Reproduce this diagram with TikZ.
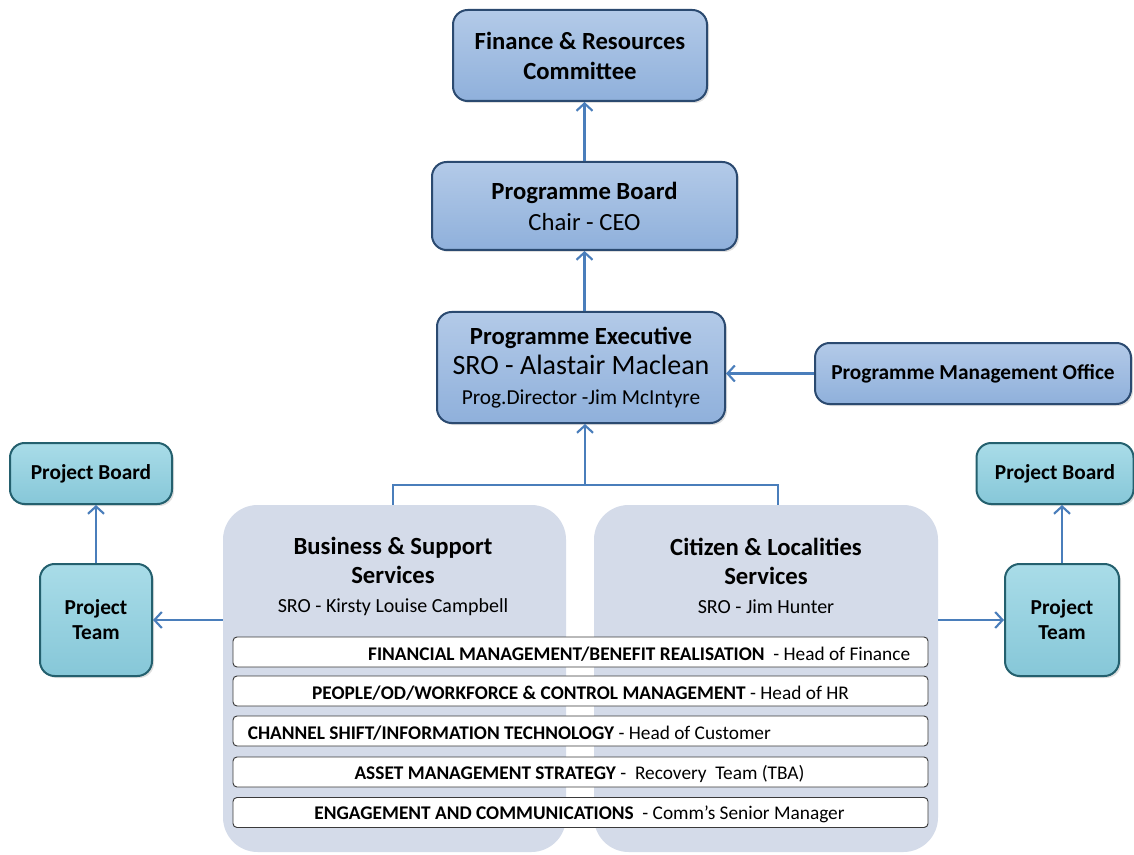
\documentclass[tikz,border=0pt]{standalone}
\usepackage{fontspec}
\setmainfont{Carlito}
\usetikzlibrary{arrows.meta,calc,shadows}
\definecolor{maintop}{HTML}{B3CAE8}
\definecolor{mainbot}{HTML}{8FB0DB}
\definecolor{mainline}{HTML}{2B4A70}
\definecolor{cyantop}{HTML}{A9DCE8}
\definecolor{cyanbot}{HTML}{86C7D8}
\definecolor{cyanline}{HTML}{24606E}
\definecolor{panel}{HTML}{D4DBE9}
\definecolor{arrowc}{HTML}{4A7EBB}
\definecolor{stripline}{HTML}{3A3A3A}
\begin{document}
\begin{tikzpicture}[x=0.75pt,y=-0.75pt,
  mainbox/.style={draw=mainline, line width=1.5pt, rounded corners=11pt,
    top color=maintop, bottom color=mainbot, align=center, inner sep=0pt,
    drop shadow={opacity=0.25, shadow xshift=1.5pt, shadow yshift=-1.5pt}},
  cyanbox/.style={draw=cyanline, line width=1.5pt, rounded corners=11pt,
    top color=cyantop, bottom color=cyanbot, align=center, inner sep=0pt,
    font=\fontsize{16}{18.75}\selectfont\bfseries,
    drop shadow={opacity=0.25, shadow xshift=1.5pt, shadow yshift=-1.5pt}},
  panelbox/.style={fill=panel, rounded corners=26pt, inner sep=0pt},
  stripbox/.style={draw=stripline, line width=0.7pt, fill=white, rounded corners=3pt,
    minimum width=521.25pt, minimum height=22.5pt, inner sep=0pt},
  striptext/.style={inner sep=0pt, font=\fontsize{14.5}{16}\selectfont},
  arr/.style={draw=arrowc, line width=1.6pt, -{Straight Barb[length=5.5pt,width=12pt]}},
  conn/.style={draw=arrowc, line width=1.6pt}
]
\fill[white] (0,0) rectangle (1134,855);
\useasboundingbox (0,0) rectangle (1134,855);

% top chain
\node[mainbox, minimum width=190.5pt, minimum height=68.25pt,
  font=\fontsize{18.5}{22.5}\selectfont\bfseries] (fin) at (580,55.5)
  {Finance \& Resources\\Committee};
\node[mainbox, minimum width=228.75pt, minimum height=66pt,
  font=\fontsize{18.5}{23.25}\selectfont] (pb) at (584.5,206)
  {\textbf{Programme Board}\\Chair - CEO};
\node[mainbox, minimum width=216pt, minimum height=83.25pt,
  font=\fontsize{18.5}{22.5}\selectfont] (ex) at (581,367.5)
  {\textbf{Programme Executive}\\{\fontsize{21}{22.5}\selectfont SRO - Alastair Maclean}\\{\fontsize{16}{22.5}\selectfont Prog.Director -Jim McIntyre}};
\node[mainbox, minimum width=237pt, minimum height=45.75pt,
  font=\fontsize{16}{18}\selectfont\bfseries] (pmo) at (973,373.5)
  {Programme Management Office};

% side boxes
\node[cyanbox, minimum width=121.5pt, minimum height=45.75pt] (lpb) at (91,473.5) {Project Board};
\node[cyanbox, minimum width=84pt, minimum height=84pt] (ltm) at (96,620) {Project\\Team};
\node[cyanbox, minimum width=117.75pt, minimum height=45.75pt] (rpb) at (1055,473.5) {Project Board};
\node[cyanbox, minimum width=85.5pt, minimum height=84pt] (rtm) at (1062,620) {Project\\Team};

% panels
\node[panelbox, minimum width=257.25pt, minimum height=260.25pt] (lp) at (394.5,678.5) {};
\node[panelbox, minimum width=258pt, minimum height=260.25pt] (rp) at (766,678.5) {};
\node[align=center, inner sep=0pt, font=\fontsize{18.5}{21.75}\selectfont\bfseries] (lpt) at (393,576)
  {Business \& Support\\Services\\{\fontsize{15}{21.75}\selectfont\mdseries SRO - Kirsty Louise Campbell}};
\node[align=center, inner sep=0pt, font=\fontsize{18.5}{21.75}\selectfont\bfseries] (rpt) at (766,576)
  {Citizen \& Localities\\Services\\{\fontsize{15}{21.75}\selectfont\mdseries SRO - Jim Hunter}};

% strips
\node[stripbox] (s1) at (580.5,652) {};
\node[stripbox] (s2) at (580.5,691) {};
\node[stripbox] (s3) at (580.5,731) {};
\node[stripbox] (s4) at (580.5,772) {};
\node[stripbox] (s5) at (580.5,812.5) {};
\node[striptext, anchor=east] (t1) at ($(s1.east)+(-18,2)$)
  {\textbf{FINANCIAL MANAGEMENT/BENEFIT REALISATION}\ \ - Head of Finance};
\node[striptext] (t2) at ($(s2.center)+(0,2)$)
  {\textbf{PEOPLE/OD/WORKFORCE \& CONTROL MANAGEMENT} - Head of HR};
\node[striptext, anchor=west] (t3) at ($(s3.west)+(15,2)$)
  {\textbf{CHANNEL SHIFT/INFORMATION TECHNOLOGY} - Head of Customer};
\node[striptext] (t4) at ($(s4.center)+(-1,2)$)
  {\textbf{ASSET MANAGEMENT STRATEGY} -\ \ Recovery\ \ Team (TBA)};
\node[striptext] (t5) at ($(s5.center)+(-1,2)$)
  {\textbf{ENGAGEMENT AND COMMUNICATIONS}\ \ - Comm’s Senior Manager};

% connectors
\draw[arr] (pb.north) -- (pb.north |- fin.south);
\draw[arr] (ex.north -| pb.south) -- (pb.south);
\draw[arr] (pmo.west) -- (pmo.west -| ex.east);
\coordinate (jl) at (393,485);
\coordinate (jr) at (778,485);
\coordinate (jm) at (585,485);
\draw[conn] (lp.north -| jl) -- (jl) -- (jr) -- (rp.north -| jr);
\draw[arr] (jm) -- (jm |- ex.south);
\draw[arr] (lp.west |- ltm.east) -- (ltm.east);
\draw[arr] (rp.east |- rtm.west) -- (rtm.west);
\draw[arr] (ltm.north) -- (ltm.north |- lpb.south);
\draw[arr] (rtm.north) -- (rtm.north |- rpb.south);
\end{tikzpicture}
\end{document}
